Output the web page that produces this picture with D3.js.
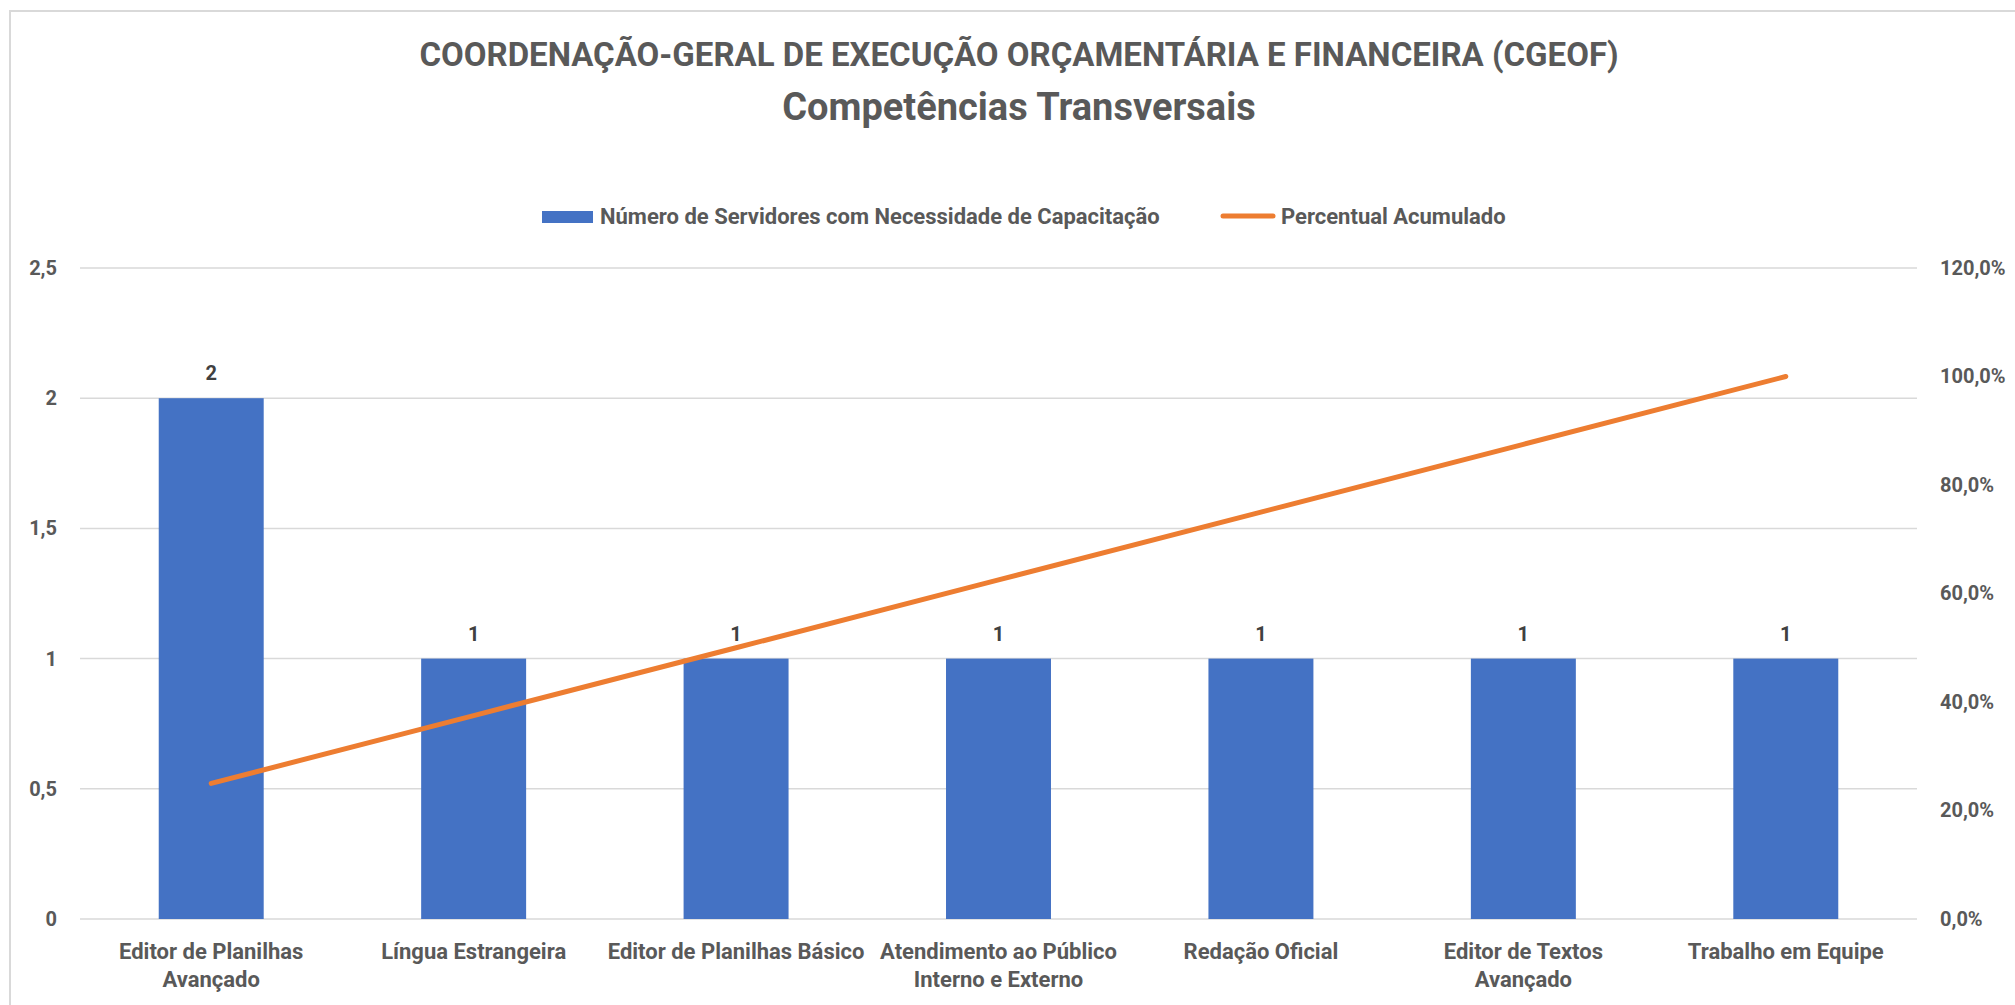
<!DOCTYPE html>
<html>
<head>
<meta charset="utf-8">
<script src="https://cdn.jsdelivr.net/npm/d3@7/dist/d3.min.js"></script>
<style>
  body { margin: 0; background: #fff; }
  text { font-family: Roboto, "Open Sans", sans-serif; font-weight: bold; }
</style>
</head>
<body>
<script>

  // chart values
  const categories = [
    'Editor de Planilhas Avançado',
    'Língua Estrangeira',
    'Editor de Planilhas Básico',
    'Atendimento ao Público Interno e Externo',
    'Redação Oficial',
    'Editor de Textos Avançado',
    'Trabalho em Equipe'
  ];
  // how the axis labels wrap
  const categoryLines = [
    ['Editor de Planilhas', 'Avançado'],
    ['Língua Estrangeira'],
    ['Editor de Planilhas Básico'],
    ['Atendimento ao Público', 'Interno e Externo'],
    ['Redação Oficial'],
    ['Editor de Textos', 'Avançado'],
    ['Trabalho em Equipe']
  ];
  const servidores = [2, 1, 1, 1, 1, 1, 1];
  const acumulado = [0.25, 0.375, 0.5, 0.625, 0.75, 0.875, 1.0];
  const leftTicks = [0, 0.5, 1, 1.5, 2, 2.5];
  const rightTicks = [0, 0.2, 0.4, 0.6, 0.8, 1.0, 1.2];

  const title1 = 'COORDENAÇÃO-GERAL DE EXECUÇÃO ORÇAMENTÁRIA E FINANCEIRA (CGEOF)';
  const title2 = 'Competências Transversais';
  const legendBar = 'Número de Servidores com Necessidade de Capacitação';
  const legendLine = 'Percentual Acumulado';

  const colors = { bar: '#4472C4', line: '#ED7D31', text: '#595959', label: '#404040', grid: '#d9d9d9' };

  const W = 2015, H = 1005;
  const plot = { left: 80, right: 1917, top: 268, bottom: 919 };

  const svg = d3.select('body').append('svg')
    .attr('width', W)
    .attr('height', H);

  // chart area border
  svg.append('rect')
    .attr('x', 10).attr('y', 11)
    .attr('width', W + 20).attr('height', H + 20)
    .attr('fill', 'none')
    .attr('stroke', colors.grid)
    .attr('stroke-width', 2);

  const x = d3.scaleBand()
    .domain(categories)
    .range([plot.left, plot.right])
    .paddingInner(0.6)
    .paddingOuter(0.3);

  const yL = d3.scaleLinear().domain([0, 2.5]).range([plot.bottom, plot.top]);
  const yR = d3.scaleLinear().domain([0, 1.2]).range([plot.bottom, plot.top]);

  const fmtL = d => d3.format('~g')(d).replace('.', ',');
  const fmtR = d => d3.format('.1f')(d * 100).replace('.', ',') + '%';

  // gridlines
  svg.append('g')
    .selectAll('line')
    .data(leftTicks)
    .join('line')
      .attr('x1', plot.left).attr('x2', plot.right)
      .attr('y1', d => yL(d)).attr('y2', d => yL(d))
      .attr('stroke', colors.grid)
      .attr('stroke-width', 1.5);

  // left axis
  const leftAxis = svg.append('g')
    .attr('transform', `translate(${plot.left}, 0)`)
    .call(d3.axisLeft(yL).tickValues(leftTicks).tickFormat(fmtL).tickSize(0).tickPadding(23));
  leftAxis.select('.domain').remove();
  leftAxis.selectAll('text')
    .style('font-size', '20px')
    .style('font-family', 'Roboto')
    .attr('fill', colors.text);

  // right axis
  const rightAxis = svg.append('g')
    .attr('transform', `translate(${plot.right}, 0)`)
    .call(d3.axisRight(yR).tickValues(rightTicks).tickFormat(fmtR).tickSize(0).tickPadding(23));
  rightAxis.select('.domain').remove();
  rightAxis.selectAll('text')
    .style('font-size', '20px')
    .style('font-family', 'Roboto')
    .attr('fill', colors.text);

  // bottom axis
  const bottomAxis = svg.append('g')
    .attr('transform', `translate(0, ${plot.bottom})`)
    .call(d3.axisBottom(x).tickSize(0).tickPadding(0));
  bottomAxis.select('.domain').remove();
  bottomAxis.selectAll('text')
    .style('font-size', '22px')
    .style('font-family', 'Roboto')
    .attr('fill', colors.text)
    .each(function(d, i) {
      const el = d3.select(this);
      el.text('').attr('y', 0).attr('dy', null);
      categoryLines[i].forEach((line, j) => {
        el.append('tspan')
          .attr('x', 0)
          .attr('y', 40 + j * 28)
          .text(line);
      });
    });

  // bars
  svg.append('g')
    .selectAll('rect')
    .data(servidores)
    .join('rect')
      .attr('x', (d, i) => x(categories[i]))
      .attr('y', d => yL(d))
      .attr('width', x.bandwidth())
      .attr('height', d => yL(0) - yL(d))
      .attr('fill', colors.bar);

  // data labels
  svg.append('g')
    .selectAll('text')
    .data(servidores)
    .join('text')
      .attr('x', (d, i) => x(categories[i]) + x.bandwidth() / 2)
      .attr('y', d => yL(d) - 18)
      .attr('text-anchor', 'middle')
      .style('font-size', '20px')
      .attr('fill', colors.label)
      .text(d => d);

  // cumulative line
  const line = d3.line()
    .x((d, i) => x(categories[i]) + x.bandwidth() / 2)
    .y(d => yR(d));

  svg.append('path')
    .datum(acumulado)
    .attr('d', line)
    .attr('fill', 'none')
    .attr('stroke', colors.line)
    .attr('stroke-width', 5)
    .attr('stroke-linecap', 'round')
    .attr('stroke-linejoin', 'round');

  // titles
  svg.append('text')
    .attr('x', 1019).attr('y', 66)
    .attr('text-anchor', 'middle')
    .style('font-size', '33px')
    .attr('fill', colors.text)
    .text(title1);
  svg.append('text')
    .attr('x', 1019).attr('y', 120)
    .attr('text-anchor', 'middle')
    .style('font-size', '38px')
    .attr('fill', colors.text)
    .text(title2);

  // legend
  const legend = svg.append('g');
  legend.append('rect')
    .attr('x', 542).attr('y', 211)
    .attr('width', 51).attr('height', 12)
    .attr('fill', colors.bar);
  legend.append('text')
    .attr('x', 600).attr('y', 224)
    .style('font-size', '22px')
    .attr('fill', colors.text)
    .text(legendBar);
  legend.append('line')
    .attr('x1', 1223).attr('x2', 1273)
    .attr('y1', 216).attr('y2', 216)
    .attr('stroke', colors.line)
    .attr('stroke-width', 5)
    .attr('stroke-linecap', 'round');
  legend.append('text')
    .attr('x', 1281).attr('y', 224)
    .style('font-size', '22px')
    .attr('fill', colors.text)
    .text(legendLine);

</script>
</body>
</html>
